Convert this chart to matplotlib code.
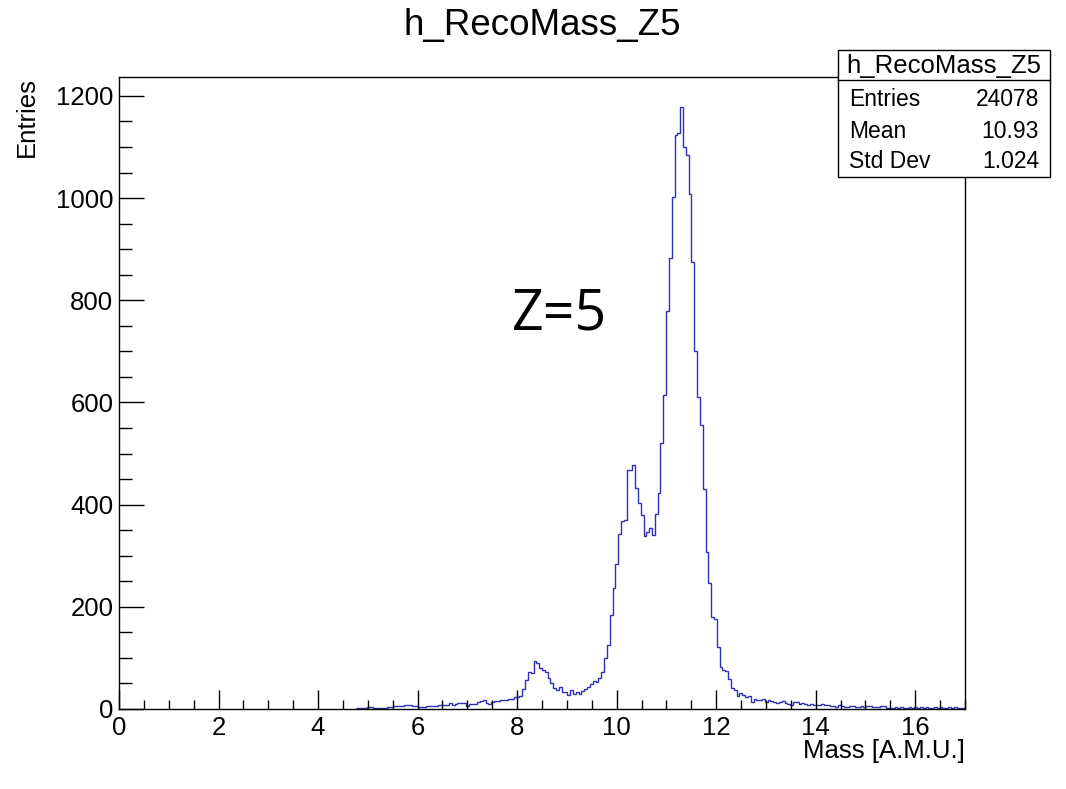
import numpy as np
import matplotlib
matplotlib.use("Agg")
import matplotlib.pyplot as plt
from matplotlib.patches import Rectangle
from matplotlib.lines import Line2D
from matplotlib.ticker import MultipleLocator

plt.rcParams['font.family'] = ['Liberation Sans', 'DejaVu Sans']

# ---- data ----
title = "h_RecoMass_Z5"
x_label = "Mass [A.M.U.]"
y_label = "Entries"
annotation = "Z=5"
stats_labels = ["Entries", "Mean", "Std Dev"]
stats_values = ["24078", "10.93", "1.024"]

n_bins = 300
x_min, x_max = 0.0, 17.0
first_bin = 84
counts_from_first = [
    1, 2, 1, 1, 3, 3, 2, 2, 2, 1, 1, 4, 4, 6, 6, 5, 5, 7, 7, 7,          # 84-103
    5, 5, 4, 4, 4, 5, 5, 5, 5, 7, 7, 8, 8, 12, 8, 9, 12, 12, 12, 5,      # 104-123
    9, 10, 10, 14, 15, 17, 11, 10, 13, 16, 16, 17, 17, 18, 20, 19,       # 124-139
    23, 24, 26, 40, 57, 73, 70, 93, 91, 80, 76, 72, 60, 50, 42, 38,      # 140-155
    44, 34, 34, 28, 38, 30, 33, 30, 36, 40, 44, 48, 55, 52, 60, 73,      # 156-171
    100, 125, 184, 236, 284, 342, 368, 370, 468, 468, 478, 432,          # 172-183
    404, 380, 339, 347, 354, 340, 382, 422, 520, 614, 779, 883,          # 184-195
    1002, 1123, 1128, 1178, 1100, 1085, 1008, 874, 700, 611, 556, 430,   # 196-207
    307, 246, 181, 176, 122, 83, 76, 75, 58, 42, 38, 25, 31,             # 208-220
    28, 24, 26, 14, 19, 17, 18, 19, 14, 17, 15, 13, 11, 13, 15, 11,      # 221-236
    9, 8, 13, 14, 10, 11, 9, 8, 9, 8, 8, 7, 9, 7, 7, 6,                  # 237-252
    5, 3, 8, 5, 4, 4, 5, 5, 4, 4, 5, 4, 5, 5, 4, 3,                      # 253-268
    3, 5, 5, 2, 2, 2, 3, 2, 3, 2, 2, 3, 2, 3, 2, 3,                      # 269-284
    2, 3, 2, 2, 3, 2, 3, 2, 2, 3, 2, 3, 2, 2, 2,                         # 285-299
]

edges = np.linspace(x_min, x_max, n_bins + 1)
counts = np.zeros(n_bins)
counts[first_bin:first_bin + len(counts_from_first)] = counts_from_first

# ---- figure ----
W, H = 1066, 789
fig = plt.figure(figsize=(W / 100, H / 100), dpi=100)
L, R, T, B = 119, 965, 77, 709
ax = fig.add_axes([L / W, 1 - B / H, (R - L) / W, (B - T) / H])

hist_color = '#3030b4'
ax.stairs(counts[first_bin:], edges[first_bin:], color=hist_color, linewidth=1.0,
          baseline=None)

ax.set_xlim(x_min, x_max)
ax.set_ylim(0, 1237)

ax.xaxis.set_major_locator(MultipleLocator(2))
ax.xaxis.set_minor_locator(MultipleLocator(0.5))
ax.yaxis.set_major_locator(MultipleLocator(200))
ax.yaxis.set_minor_locator(MultipleLocator(50))

ax.tick_params(axis='x', which='major', direction='in', length=13.7, width=1,
               labelsize=18.5, pad=5, top=False)
ax.tick_params(axis='x', which='minor', direction='in', length=6.8, width=1, top=False)
ax.tick_params(axis='y', which='major', direction='in', length=18, width=1,
               labelsize=18.5, pad=4, right=False)
ax.tick_params(axis='y', which='minor', direction='in', length=9, width=1, right=False)
for s in ax.spines.values():
    s.set_linewidth(1.0)
    s.set_color('black')

# annotation
ax.text(7.9, 742, annotation, fontsize=40, family=['Open Sans', 'DejaVu Sans'],
        ha='left', va='baseline')

# titles / labels
fig.text(542 / W, 1 - 26 / H, title, ha='center', va='center', fontsize=26.5)
fig.text(R / W, 1 - 751 / H, x_label, ha='right', va='center', fontsize=18.5)
fig.text(27 / W, 1 - T / H, y_label, ha='center', va='top', rotation=90, fontsize=18.5)

# stats box
bx0, bx1, by0, by1 = 838, 1050, 50, 177
sep = 80
fig.patches.append(Rectangle((bx0 / W, 1 - by1 / H), (bx1 - bx0) / W, (by1 - by0) / H,
                             transform=fig.transFigure, facecolor='white',
                             edgecolor='black', linewidth=1.0, zorder=5))
fig.lines.append(Line2D([bx0 / W, bx1 / W], [1 - sep / H, 1 - sep / H],
                        transform=fig.transFigure, color='black', linewidth=1.0, zorder=6))
fig.text((bx0 + bx1) / 2 / W, 1 - 66 / H, title, ha='center', va='center',
         fontsize=18.5, zorder=7)
row_y = [100, 131, 161]
for lab, val, yy in zip(stats_labels, stats_values, row_y):
    fig.text(849 / W, 1 - yy / H, lab, ha='left', va='center', fontsize=16.5, zorder=7)
    fig.text(1039 / W, 1 - yy / H, val, ha='right', va='center', fontsize=16.5, zorder=7)

fig.savefig("out.png", dpi=100)
